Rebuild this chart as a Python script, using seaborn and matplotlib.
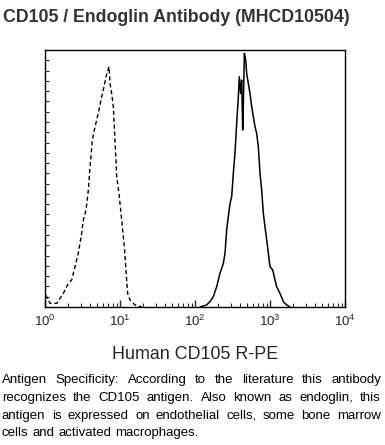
"""
Histograma de citometría: CD105 / Endoglin (MHCD10504)
"""
import numpy as np
import pandas as pd
import matplotlib
matplotlib.use("Agg")
import matplotlib.pyplot as plt
import matplotlib.ticker as mticker
import seaborn as sns

# Control de isotipo (línea discontinua): log10 intensidad, % del máximo
control_log = [0.009, 0.067, 0.156, 0.244, 0.311, 0.356, 0.40, 0.444, 0.489, 0.511,
               0.547, 0.578, 0.60, 0.613, 0.631, 0.658, 0.689, 0.711, 0.733, 0.756,
               0.787, 0.813, 0.84, 0.853, 0.867, 0.889, 0.911, 0.933, 0.956, 0.987,
               1.022, 1.058, 1.076, 1.102, 1.133, 1.2, 1.289]
control_pct = [4.7, 1.4, 1.4, 5.3, 9.2, 10.5, 15.7, 20.9, 28.7, 33.9,
               37.7, 45.5, 54.6, 58.5, 65.0, 68.9, 72.8, 75.4, 78.6, 81.8,
               85.7, 89.6, 92.2, 93.5, 87.0, 83.1, 77.9, 65.0, 50.7, 44.2,
               33.9, 23.5, 15.7, 5.3, 2.7, 0.8, 0.0]

# CD105 (línea continua)
cd105_log = [2.067, 2.156, 2.2, 2.244, 2.289, 2.333, 2.378, 2.4, 2.422, 2.444,
             2.467, 2.489, 2.511, 2.533, 2.556, 2.578, 2.591, 2.609, 2.622, 2.636,
             2.644, 2.658, 2.676, 2.689, 2.711, 2.733, 2.756, 2.778, 2.8, 2.822,
             2.844, 2.867, 2.889, 2.911, 2.933, 2.956, 2.978, 3.0, 3.036, 3.067,
             3.089, 3.133, 3.178, 3.222, 3.267]
cd105_pct = [0.0, 0.8, 2.1, 4.0, 7.9, 13.1, 17.0, 20.9, 30.0, 35.1,
             40.3, 42.9, 52.0, 59.8, 71.5, 81.8, 89.6, 83.1, 88.3, 68.9,
             77.9, 98.7, 96.1, 90.9, 87.0, 83.1, 77.9, 74.0, 70.2, 67.6,
             62.4, 52.0, 45.5, 36.5, 31.2, 26.1, 20.9, 15.7, 14.4, 10.5,
             7.9, 5.3, 2.1, 0.8, 0.0]

x_ticks = [1, 10, 100, 1000, 10000]

title = "CD105 / Endoglin Antibody (MHCD10504)"
x_label = "Human CD105 R-PE"
paragraph = [
    "Antigen Specificity: According to the literature this antibody",
    "recognizes the CD105 antigen. Also known as endoglin, this",
    "antigen is expressed on endothelial cells, some bone marrow",
    "cells and activated macrophages.",
]

sns.set_style("ticks")
plt.rcParams['font.family'] = ['Liberation Sans', 'DejaVu Sans']

W, H = 385, 445
fig = plt.figure(figsize=(W / 100, H / 100), dpi=100)
ax = fig.add_axes([45 / W, 1 - 307 / H, 300 / W, 257 / H])

df_ctrl = pd.DataFrame({"x": np.power(10.0, control_log), "y": control_pct})
df_cd = pd.DataFrame({"x": np.power(10.0, cd105_log), "y": cd105_pct})

sns.lineplot(data=df_ctrl, x="x", y="y", ax=ax, color="black", lw=1.0,
             linestyle=(0, (3, 2)), estimator=None, sort=False)
sns.lineplot(data=df_cd, x="x", y="y", ax=ax, color="black", lw=1.1,
             estimator=None, sort=False)

ax.set_xscale("log")
ax.set_xlim(1, 10000)
ax.set_ylim(0, 100)
ax.set_xticks(x_ticks)
ax.xaxis.set_minor_locator(mticker.LogLocator(base=10, subs=np.arange(2, 10)))
ax.xaxis.set_minor_formatter(mticker.NullFormatter())
ax.yaxis.set_major_locator(mticker.MultipleLocator(4))
ax.yaxis.set_major_formatter(mticker.NullFormatter())
ax.tick_params(axis="both", which="both", bottom=True, left=True,
               top=False, right=False)
ax.tick_params(axis="x", which="major", direction="in", length=5, width=1,
               labelsize=9.5, pad=5)
ax.tick_params(axis="x", which="minor", direction="in", length=3, width=0.8)
ax.tick_params(axis="y", which="major", direction="in", length=3, width=0.8)
ax.set_xlabel(x_label, fontsize=12.9, labelpad=12)
ax.set_ylabel("")
for s in ax.spines.values():
    s.set_visible(True)
    s.set_color("black")
    s.set_linewidth(1.0)

fig.text(3 / W, 1 - 17 / H, title, fontsize=12.8, fontweight="bold",
         color="#333333", ha="left", va="center")

# Párrafo justificado: se colocan las palabras una a una
renderer = fig.canvas.get_renderer()
left_px, right_px = 2, 381
line_y = [380, 398, 416, 433]
for i, line in enumerate(paragraph):
    words = line.split(" ")
    texts = [fig.text(0, 1 - line_y[i] / H, w, fontsize=9.5, color="black",
                      ha="left", va="center") for w in words]
    widths = [t.get_window_extent(renderer).width for t in texts]
    if i < len(paragraph) - 1:
        gap = (right_px - left_px - sum(widths)) / (len(words) - 1)
    else:
        gap = 4.0
    x = left_px
    for t, w in zip(texts, widths):
        t.set_x(x / W)
        x += w + gap

fig.savefig("out.png", dpi=100)
